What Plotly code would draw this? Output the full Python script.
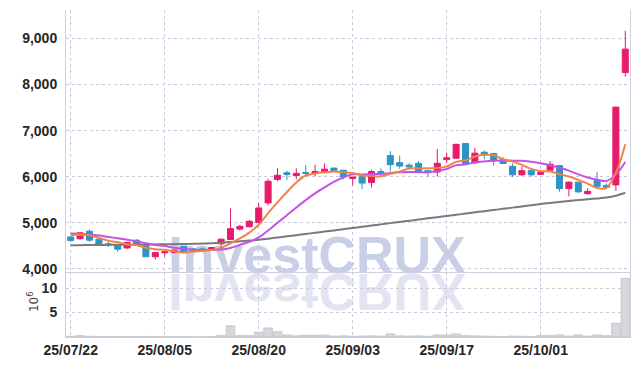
import plotly.graph_objects as go
import pandas as pd

# ---------------- data ----------------
dates = [
    "2025-07-22", "2025-07-23", "2025-07-24", "2025-07-25", "2025-07-28", "2025-07-29", "2025-07-30", "2025-07-31",
    "2025-08-01", "2025-08-04", "2025-08-05", "2025-08-06", "2025-08-07", "2025-08-08", "2025-08-11", "2025-08-12",
    "2025-08-13", "2025-08-14", "2025-08-18", "2025-08-19", "2025-08-20", "2025-08-21", "2025-08-22", "2025-08-25",
    "2025-08-26", "2025-08-27", "2025-08-28", "2025-08-29", "2025-09-01", "2025-09-02", "2025-09-03", "2025-09-04",
    "2025-09-05", "2025-09-08", "2025-09-09", "2025-09-10", "2025-09-11", "2025-09-12", "2025-09-15", "2025-09-16",
    "2025-09-17", "2025-09-18", "2025-09-19", "2025-09-22", "2025-09-23", "2025-09-24", "2025-09-25", "2025-09-26",
    "2025-09-29", "2025-09-30", "2025-10-01", "2025-10-02", "2025-10-10", "2025-10-13", "2025-10-14", "2025-10-15",
    "2025-10-16", "2025-10-17", "2025-10-20", "2025-10-21",
]
opens = [4690, 4650, 4815, 4640, 4540, 4510, 4450, 4620, 4510, 4260,
         4345, 4352, 4490, 4430, 4430, 4400, 4540, 4635, 4860, 4910,
         5000, 5430, 5940, 6083, 6025, 6090, 6075, 6112, 6185, 6140,
         5960, 6000, 5870, 6112, 6460, 6304, 6250, 6290, 6130, 6100,
         6370, 6400, 6720, 6300, 6530, 6500, 6370, 6225, 6040, 6135,
         6050, 6140, 6240, 5740, 5880, 5630, 5920, 5810, 5820, 8260]
highs = [4700, 4800, 4850, 4650, 4600, 4515, 4580, 4640, 4515, 4355,
         4400, 4430, 4495, 4450, 4460, 4465, 4660, 5310, 4950, 5060,
         5430, 5950, 6185, 6130, 6180, 6250, 6260, 6290, 6200, 6145,
         6000, 6005, 6150, 6180, 6555, 6457, 6290, 6340, 6135, 6600,
         6520, 6720, 6725, 6630, 6570, 6505, 6420, 6290, 6225, 6140,
         6130, 6340, 6245, 5900, 5885, 5750, 6100, 5850, 7520, 9170]
lows = [4590, 4630, 4590, 4510, 4470, 4365, 4430, 4505, 4255, 4200,
        4260, 4330, 4365, 4370, 4370, 4395, 4440, 4630, 4830, 4905,
        4990, 5380, 5900, 5925, 5940, 6010, 6010, 6075, 6120, 5940,
        5815, 5730, 5760, 6020, 6110, 6170, 6150, 6090, 6000, 6000,
        6300, 6395, 6275, 6295, 6380, 6240, 6280, 5990, 6020, 6000,
        6040, 6130, 5672, 5570, 5640, 5610, 5740, 5740, 5690, 8170]
closes = [4610, 4780, 4620, 4530, 4510, 4425, 4570, 4510, 4260, 4350,
          4365, 4402, 4370, 4390, 4405, 4460, 4640, 4870, 4920, 5030,
          5320, 5900, 6030, 6047, 6070, 6075, 6112, 6163, 6130, 5990,
          5990, 5860, 6110, 6085, 6260, 6230, 6210, 6100, 6100, 6290,
          6410, 6700, 6280, 6510, 6475, 6350, 6285, 6040, 6130, 6040,
          6090, 6270, 5740, 5880, 5670, 5680, 5790, 5770, 7510, 8770]
# traded volume, millions of shares
volume_m = [0.15, 0.30, 0.15, 0.10, 0.08, 0.10, 0.08, 0.08, 0.12, 0.08,
            0.07, 0.07, 0.08, 0.06, 0.06, 0.10, 0.30, 2.30, 0.30, 0.30,
            1.00, 1.85, 1.10, 0.45, 0.25, 0.40, 0.40, 0.40, 0.20, 0.25,
            0.15, 0.20, 0.25, 0.20, 0.65, 0.25, 0.20, 0.25, 0.15, 0.45,
            0.40, 0.65, 0.30, 0.25, 0.20, 0.15, 0.10, 0.20, 0.15, 0.10,
            0.30, 0.30, 0.45, 0.20, 0.45, 0.20, 0.45, 0.30, 2.85, 12.0]
# long moving average (grey)
ma_long = [4510, 4512, 4514, 4516, 4518, 4520, 4522, 4524, 4526, 4528,
           4530, 4533, 4536, 4540, 4546, 4554, 4566, 4580, 4596, 4611,
           4628, 4651, 4677, 4703, 4729, 4755, 4780, 4806, 4832, 4858,
           4885, 4911, 4937, 4963, 4990, 5015, 5041, 5067, 5094, 5119,
           5146, 5172, 5197, 5224, 5250, 5275, 5301, 5327, 5353, 5380,
           5406, 5429, 5451, 5471, 5490, 5508, 5527, 5548, 5586, 5650]
# first values of the short averages (need days before the window)
ma5_head = [4730, 4740, 4725, 4670]
ma10_head = [4765, 4760, 4745, 4720, 4690, 4660, 4630, 4595, 4555]

tick_dates = ["2025-07-22", "2025-08-05", "2025-08-20", "2025-09-03", "2025-09-17", "2025-10-01"]
tick_labels = ["25/07/22", "25/08/05", "25/08/20", "25/09/03", "25/09/17", "25/10/01"]
price_ticks = [4000, 5000, 6000, 7000, 8000, 9000]
vol_ticks = [5, 10]
vol_unit = "10<sup>6</sup>"
watermark = "InvestCRUX"

# ---------------- derived ----------------
cs = pd.Series(closes, dtype=float)
ma5 = cs.rolling(5).mean().tolist()
ma5[:len(ma5_head)] = ma5_head
ma10 = cs.rolling(10).mean().tolist()
ma10[:len(ma10_head)] = ma10_head

UP = "#e61b6c"
DOWN = "#2e94c7"
GRID = "#c9c9db"
AXLINE = "#cfcfdf"
TICKFONT = dict(family="Liberation Sans, Arial, sans-serif", size=14, color="#262626", weight="bold")

fig = go.Figure()
fig.add_trace(go.Candlestick(
    x=dates, open=opens, high=highs, low=lows, close=closes,
    increasing=dict(line=dict(color=UP, width=1), fillcolor=UP),
    decreasing=dict(line=dict(color=DOWN, width=1), fillcolor=DOWN),
    whiskerwidth=0, xaxis="x", yaxis="y", showlegend=False, hoverinfo="skip"))
fig.add_trace(go.Scatter(x=dates, y=ma_long, mode="lines", line=dict(color="#7a7a7a", width=2, shape="spline"),
                         xaxis="x", yaxis="y", showlegend=False, hoverinfo="skip"))
fig.add_trace(go.Scatter(x=dates, y=ma10, mode="lines", line=dict(color="#c452e6", width=2, shape="spline"),
                         xaxis="x", yaxis="y", showlegend=False, hoverinfo="skip"))
fig.add_trace(go.Scatter(x=dates, y=ma5, mode="lines", line=dict(color="#ef8445", width=2, shape="spline"),
                         xaxis="x", yaxis="y", showlegend=False, hoverinfo="skip"))
fig.add_trace(go.Bar(x=dates, y=volume_m, marker=dict(color="#d6d6db", line=dict(color="#b9b9c2", width=0.6)),
                     xaxis="x2", yaxis="y2", showlegend=False, hoverinfo="skip"))

split = 0.199
fig.update_layout(
    width=639, height=366,
    margin=dict(l=66, r=9, t=10, b=29),
    paper_bgcolor="white", plot_bgcolor="white",
    bargap=0.08, boxgap=0.2, boxgroupgap=0.2,
    xaxis=dict(domain=[0, 1], anchor="y", type="category", range=[-0.5, len(dates) - 0.5],
               rangeslider=dict(visible=False), showticklabels=False,
               tickvals=tick_dates, showgrid=True, gridcolor=GRID, griddash="dot", gridwidth=1,
               showline=True, linecolor=AXLINE, linewidth=1, ticks="", zeroline=False),
    yaxis=dict(domain=[split, 1], anchor="x", range=[3930, 9620], tickvals=price_ticks, tickformat=",d",
               showgrid=True, gridcolor=GRID, griddash="dot", gridwidth=1, zeroline=False,
               showline=True, linecolor=AXLINE, linewidth=1, mirror=True, ticks="",
               tickfont=TICKFONT, ticklabelstandoff=5, automargin=False),
    xaxis2=dict(domain=[0, 1], anchor="y2", type="category", range=[-0.5, len(dates) - 0.5],
                matches="x", tickvals=tick_dates, ticktext=tick_labels, tickfont=TICKFONT,
                showgrid=True, gridcolor=GRID, griddash="dot", gridwidth=1, automargin=False,
                showline=True, linecolor=AXLINE, linewidth=1, ticks="", zeroline=False),
    yaxis2=dict(domain=[0, split], anchor="x2", range=[0, 13.3], tickvals=vol_ticks,
                showgrid=True, gridcolor=GRID, griddash="dot", gridwidth=1, zeroline=False,
                showline=True, linecolor=AXLINE, linewidth=1, mirror=True, ticks="",
                tickfont=TICKFONT, ticklabelstandoff=5, automargin=False),
)

# unit of the volume axis
fig.add_annotation(text=vol_unit, xref="paper", yref="paper", x=-0.0585, y=0.107,
                   textangle=-90, showarrow=False, xanchor="center", yanchor="middle",
                   font=dict(family="DejaVu Sans, sans-serif", size=12, color="#444"))

# watermark (drawn below the traces) and its mirrored reflection
for col in ["rgb(200, 207, 230)", "rgb(226, 229, 241)"]:
    fig.add_shape(type="rect", xref="paper", yref="paper", x0=0.2, x1=0.69, y0=0.206, y1=0.326,
                  line=dict(width=0), fillcolor="rgba(0,0,0,0)", layer="below",
                  label=dict(text=watermark, textposition="middle center",
                             font=dict(family="Liberation Sans, Arial, sans-serif", size=52,
                                       color=col, weight="bold")))

post_js = """
document.body.style.margin = '0';
document.body.style.padding = '0';
var gd = document.getElementById('{plot_id}');
function flipRefl(){
  var ts = gd.querySelectorAll('text');
  for (var i = 0; i < ts.length; i++) {
    var t = ts[i];
    var st = t.getAttribute('style') || '';
    if (t.textContent === 'InvestCRUX' && st.indexOf('rgb(226, 229, 241)') >= 0 && !t.getAttribute('data-flip')) {
      t.removeAttribute('transform');
      var bb = t.getBBox();
      var fs = 52;
      var axis = bb.y + 0.905 * fs + 0.5;
      t.setAttribute('transform', 'translate(0,' + (2 * axis) + ') scale(1,-1)');
      t.setAttribute('data-flip', '1');
    }
  }
}
flipRefl();
setTimeout(flipRefl, 200);
if (gd && gd.on) { gd.on('plotly_afterplot', flipRefl); }
"""

fig.write_html("out.html", post_script=post_js, config={"displayModeBar": False})
